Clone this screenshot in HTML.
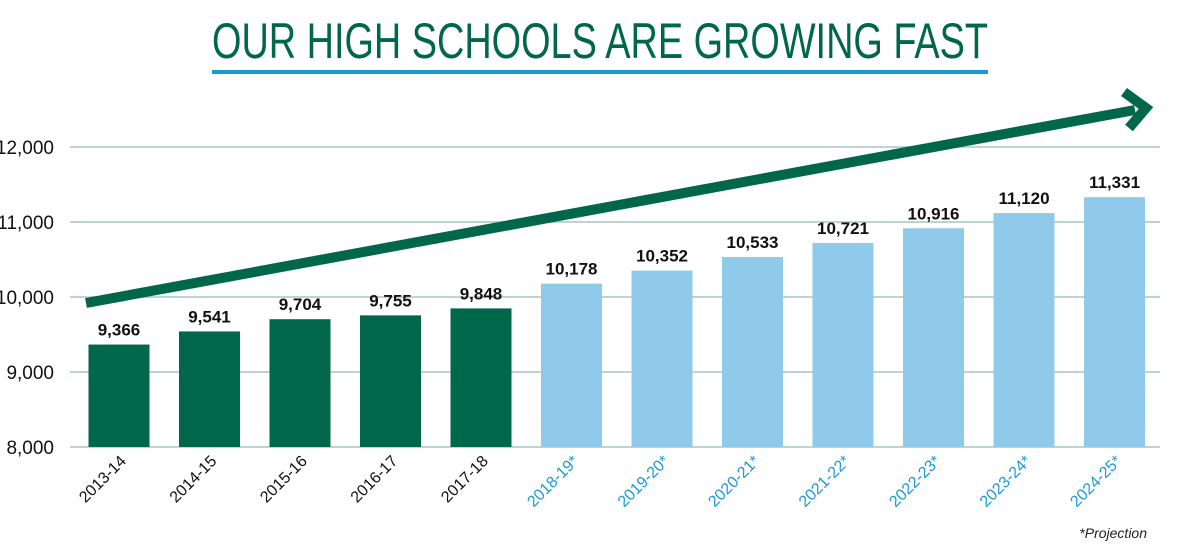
<!DOCTYPE html>
<html><head><meta charset="utf-8"><style>
html,body{margin:0;padding:0;background:#fff;width:1200px;height:547px;overflow:hidden}
svg text{font-family:"Liberation Sans",sans-serif}
</style></head><body>
<svg width="1200" height="547" viewBox="0 0 1200 547">
<text x="600" y="58" text-anchor="middle" font-size="50" fill="#00674b" textLength="776" lengthAdjust="spacingAndGlyphs">OUR HIGH SCHOOLS ARE GROWING FAST</text>
<rect x="212" y="70" width="776" height="4" fill="#1a9ad6"/>
<g id="grid"></g><g id="bars"></g><g id="labels"></g>
<line x1="86" y1="303" x2="1135" y2="110" stroke="#00674b" stroke-width="10"/>
<polyline points="1124,92 1146,108 1129,128" fill="none" stroke="#00674b" stroke-width="10"/>
<text x="1147" y="538" text-anchor="end" font-size="14" font-style="italic" fill="#222">*Projection</text>
</svg>
<script>
const categories=["2013-14","2014-15","2015-16","2016-17","2017-18","2018-19*","2019-20*","2020-21*","2021-22*","2022-23*","2023-24*","2024-25*"];
const values=[9366,9541,9704,9755,9848,10178,10352,10533,10721,10916,11120,11331];
const projected=[false,false,false,false,false,true,true,true,true,true,true,true];
const ticks=[8000,9000,10000,11000,12000];
const tickLabels=["8,000","9,000","10,000","11,000","12,000"];
const NS="http://www.w3.org/2000/svg";
const y=v=>447-(v-8000)*0.075;
const x=i=>119+i*90.5;
function mk(t,a,p){const e=document.createElementNS(NS,t);for(const k in a)e.setAttribute(k,a[k]);p.appendChild(e);return e;}
const g=document.getElementById('grid'),b=document.getElementById('bars'),l=document.getElementById('labels');
ticks.forEach((t,i)=>{
 const ln=mk('line',{x1:70,x2:1160,y1:y(t),y2:y(t),stroke:'#bcd6cf','stroke-width':2},g);
 
 
 const tx=mk('text',{x:54,y:y(t)+7,'text-anchor':'end','font-size':19,fill:'#111'},g);
 tx.textContent=tickLabels[i];
 
 
});
values.forEach((v,i)=>{
 const r=mk('rect',{x:x(i)-30.5,y:y(v),width:61,height:447-y(v),fill:projected[i]?'#90caeb':'#00674b'},b);
 
 
 const t=mk('text',{x:x(i),y:y(v)-9,'text-anchor':'middle','font-size':17,'font-weight':'bold',fill:'#111'},l);
 t.textContent=v.toLocaleString('en-US');
 
 
 const c=mk('text',{x:x(i)+8,y:462,'text-anchor':'end','font-size':16,fill:projected[i]?'#1a9ad6':'#111',transform:`rotate(-45 ${x(i)+8} 462)`},l);
 c.textContent=categories[i];
 
 
});
</script>
</body></html>
